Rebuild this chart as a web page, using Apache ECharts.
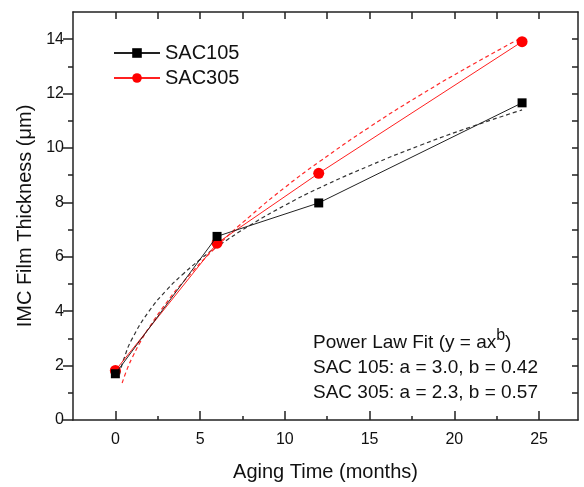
<!DOCTYPE html>
<html><head><meta charset="utf-8">
<script src="https://cdn.jsdelivr.net/npm/echarts@6/dist/echarts.min.js"></script>
<style>html,body{margin:0;padding:0;background:#fff}#c{width:584px;height:487px}</style>
</head><body><div id="c"></div>
<script>
const agingMonths = [0, 6, 12, 24];
const sac105 = [1.70, 6.75, 7.98, 11.66];
const sac305 = [1.82, 6.50, 9.07, 13.91];
const fit105X = [0.25, 0.5, 1, 2, 3, 4, 5, 6, 8, 10, 12, 15, 18, 21, 24];
const fit105Y = [1.68, 2.24, 3.0, 4.01, 4.76, 5.37, 5.9, 6.37, 7.18, 7.89, 8.52, 9.35, 10.1, 10.78, 11.4];
const fit305X = [0.4, 0.7, 1, 1.5, 2, 3, 4, 6, 8, 10, 12, 15, 18, 21, 24];
const fit305Y = [1.36, 1.88, 2.3, 2.9, 3.41, 4.3, 5.07, 6.39, 7.52, 8.55, 9.48, 10.77, 11.95, 13.04, 14.07];
const xMajor = [0, 5, 10, 15, 20, 25];
const xMinor = [2.5, 7.5, 12.5, 17.5, 22.5];
const xTop = [0, 2.5, 5, 7.5, 10, 12.5, 15, 17.5, 20, 22.5, 25];
const yMajor = [0, 2, 4, 6, 8, 10, 12, 14];
const yMinor = [1, 3, 5, 7, 9, 11, 13];
const yRight = [1, 2, 3, 4, 5, 6, 7, 8, 9, 10, 11, 12, 13, 14];
const names = ['SAC105', 'SAC305'];
const noteLines = ['Power Law Fit (y = ax{sup|b})', 'SAC 105: a = 3.0, b = 0.42', 'SAC 305: a = 2.3, b = 0.57'];

const FF = '"Liberation Sans", Arial, sans-serif';
const AX = '#222';
const zip = (xs, ys) => xs.map((x, i) => [x, ys[i]]);

const chart = echarts.init(document.getElementById('c'));
const xBase = {type: 'value', min: -2.5, max: 27.3, splitLine: {show: false}};
const yBase = {type: 'value', min: 0, max: 15, splitLine: {show: false}};
chart.setOption({
  animation: false,
  backgroundColor: '#fff',
  grid: {left: 73, top: 12, right: 6, bottom: 61.5, containLabel: false},
  title: {
    left: 308, top: 325,
    text: noteLines.join('\n'),
    textStyle: {fontFamily: FF, fontSize: 19, fontWeight: 'normal', color: '#111', lineHeight: 25,
      rich: {sup: {fontFamily: FF, fontSize: 16, color: '#111', padding: [0, 0, 13, 0]}}}
  },
  legend: {
    data: names, orient: 'vertical', left: 108, top: 38, itemWidth: 46, itemHeight: 12, itemGap: 5,
    textStyle: {fontFamily: FF, fontSize: 20, color: '#111'}
  },
  xAxis: [
    Object.assign({}, xBase, {position: 'bottom',
      name: 'Aging Time (months)', nameLocation: 'middle', nameGap: 42,
      nameTextStyle: {fontFamily: FF, fontSize: 20, color: '#111'},
      axisLine: {show: true, onZero: false, lineStyle: {color: AX, width: 1.5}},
      axisTick: {show: true, inside: true, length: 9, customValues: xMajor, lineStyle: {color: AX, width: 1.5}},
      axisLabel: {customValues: xMajor, fontFamily: FF, fontSize: 16, color: '#111', margin: 12}}),
    Object.assign({}, xBase, {position: 'bottom',
      axisLine: {show: false, onZero: false},
      axisTick: {show: true, inside: true, length: 4, customValues: xMinor, lineStyle: {color: AX, width: 1.5}},
      axisLabel: {show: false}}),
    Object.assign({}, xBase, {position: 'top',
      axisLine: {show: true, onZero: false, lineStyle: {color: AX, width: 1.5}},
      axisTick: {show: true, inside: true, length: 7, customValues: xTop, lineStyle: {color: AX, width: 1.5}},
      axisLabel: {show: false}})
  ],
  yAxis: [
    Object.assign({}, yBase, {position: 'left',
      name: 'IMC Film Thickness (μm)', nameLocation: 'middle', nameGap: 36,
      nameTextStyle: {fontFamily: FF, fontSize: 20, color: '#111'},
      axisLine: {show: true, onZero: false, lineStyle: {color: AX, width: 1.5}},
      axisTick: {show: true, inside: false, length: 10, customValues: yMajor, lineStyle: {color: AX, width: 1.5}},
      axisLabel: {customValues: yMajor, fontFamily: FF, fontSize: 16, color: '#111', margin: 9}}),
    Object.assign({}, yBase, {position: 'left',
      axisLine: {show: false, onZero: false},
      axisTick: {show: true, inside: false, length: 5, customValues: yMinor, lineStyle: {color: AX, width: 1.5}},
      axisLabel: {show: false}}),
    Object.assign({}, yBase, {position: 'right',
      axisLine: {show: true, onZero: false, lineStyle: {color: AX, width: 1.5}},
      axisTick: {show: true, inside: true, length: 6, customValues: yRight, lineStyle: {color: AX, width: 1.5}},
      axisLabel: {show: false}})
  ],
  series: [
    {name: 'fit105', type: 'line', data: zip(fit105X, fit105Y), smooth: true, showSymbol: false, silent: true,
      lineStyle: {color: '#333', width: 1.2, type: [4, 3]}, z: 2},
    {name: 'fit305', type: 'line', data: zip(fit305X, fit305Y), smooth: true, showSymbol: false, silent: true,
      lineStyle: {color: '#ff2a2a', width: 1.2, type: [4, 3]}, z: 2},
    {name: names[0], type: 'line', data: zip(agingMonths, sac105), symbol: 'rect', symbolSize: 9,
      itemStyle: {color: '#000'}, lineStyle: {color: '#222', width: 1}, z: 4},
    {name: names[1], type: 'line', data: zip(agingMonths, sac305), symbol: 'circle', symbolSize: 11,
      itemStyle: {color: '#ff0000'}, lineStyle: {color: '#ff2020', width: 1}, z: 3}
  ]
});
</script></body></html>
